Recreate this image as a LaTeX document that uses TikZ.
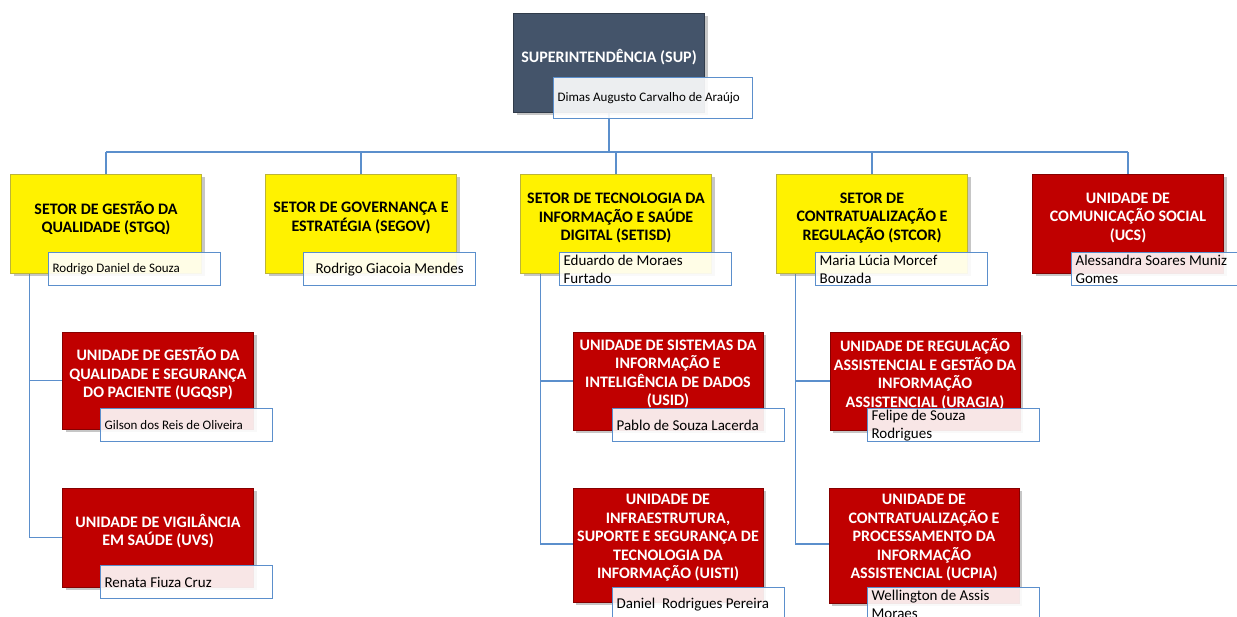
\documentclass[tikz,border=0pt]{standalone}
\usepackage{fontspec}
\setmainfont{Carlito}
\usepackage{tikz}
\usetikzlibrary{shadows, backgrounds}

\definecolor{supcolor}{RGB}{68,84,106}
\definecolor{unitred}{RGB}{192,0,0}
\definecolor{linkblue}{RGB}{91,143,204}

\begin{document}
\begin{tikzpicture}[x=1pt, y=-1pt,
  box/.style={rectangle, minimum width=191pt, minimum height=99pt, inner sep=0pt,
    drop shadow={shadow xshift=3pt, shadow yshift=-3pt, opacity=0.45}},
  setor/.style={box, fill=yellow, draw=yellow!70!black, line width=0.6pt},
  unidade/.style={box, fill=unitred, draw=unitred!70!black, line width=0.6pt},
  titulo/.style={font=\bfseries\fontsize{16}{18.5}\selectfont, align=center},
  nome/.style={anchor=north west, draw=linkblue, line width=1.2pt, fill=white,
    fill opacity=0.9, text opacity=1, text width=164pt, minimum height=33pt,
    inner xsep=4pt, inner ysep=0pt, align=flush left, font=\fontsize{15}{18}\selectfont},
  link/.style={draw=linkblue, line width=1.3pt}]
  \useasboundingbox (0,0) rectangle (1237,616);
  \coordinate (bus) at (0,152);

  % Superintendencia
  \node[box, fill=supcolor, draw=supcolor!70!black] (sup) at (609,62.5) {};
  \node[titulo, text=white] (sup-t) at ([yshift=5.5pt]sup.center) {SUPERINTENDÊNCIA (SUP)};
  \node[nome, text width=191pt, minimum height=41pt, font=\fontsize{13}{16}\selectfont] (sup-nome) at (553,77) {Dimas Augusto Carvalho de Araújo};

  % setores
  \node[setor] (stgq) at (106,223.5) {};
  \node[titulo] (stgq-t) at ([yshift=5.5pt]stgq.center) {SETOR DE GESTÃO DA\\QUALIDADE (STGQ)};
  \node[nome, font=\fontsize{13}{16}\selectfont] (stgq-nome) at (48,252) {Rodrigo Daniel de Souza};

  \node[setor] (segov) at (361,223.5) {};
  \node[titulo] (segov-t) at ([yshift=5.5pt]segov.center) {SETOR DE GOVERNANÇA E\\ESTRATÉGIA (SEGOV)};
  \node[nome] (segov-nome) at (303,252) {\hspace*{8pt}Rodrigo Giacoia Mendes};

  \node[setor] (setisd) at (616,223.5) {};
  \node[titulo] (setisd-t) at ([yshift=5.5pt]setisd.center) {SETOR DE TECNOLOGIA DA\\INFORMAÇÃO E SAÚDE\\DIGITAL (SETISD)};
  \node[nome] (setisd-nome) at (559,252) {Eduardo de Moraes\\Furtado};

  \node[setor] (stcor) at (872,223.5) {};
  \node[titulo] (stcor-t) at ([yshift=5.5pt]stcor.center) {SETOR DE\\CONTRATUALIZAÇÃO E\\REGULAÇÃO (STCOR)};
  \node[nome] (stcor-nome) at (815,252) {Maria Lúcia Morcef\\Bouzada};

  \node[unidade] (ucs) at (1128,223.5) {};
  \node[titulo, text=white] (ucs-t) at ([yshift=5.5pt]ucs.center) {UNIDADE DE\\COMUNICAÇÃO SOCIAL\\(UCS)};
  \node[nome] (ucs-nome) at (1071,252) {Alessandra Soares Muniz\\Gomes};

  % unidades do STGQ
  \node[unidade, minimum height=97pt] (ugqsp) at (158,380.5) {};
  \node[titulo, text=white] (ugqsp-t) at ([yshift=6.5pt]ugqsp.center) {UNIDADE DE GESTÃO DA\\QUALIDADE E SEGURANÇA\\DO PACIENTE (UGQSP)};
  \node[nome, font=\fontsize{13}{16}\selectfont] (ugqsp-nome) at (100,408) {Gilson dos Reis de Oliveira};

  \node[unidade] (uvs) at (158,537.5) {};
  \node[titulo, text=white] (uvs-t) at ([yshift=6.5pt]uvs.center) {UNIDADE DE VIGILÂNCIA\\EM SAÚDE (UVS)};
  \node[nome] (uvs-nome) at (100,565) {Renata Fiuza Cruz};

  % unidades do SETISD
  \node[unidade, minimum width=190pt, minimum height=98pt] (usid) at (668,381) {};
  \node[titulo, text=white] (usid-t) at ([yshift=7pt]usid.center) {UNIDADE DE SISTEMAS DA\\INFORMAÇÃO E\\INTELIGÊNCIA DE DADOS\\(USID)};
  \node[nome] (usid-nome) at (612,408) {Pablo de Souza Lacerda};

  \node[unidade, minimum width=190pt, minimum height=114pt] (uisti) at (668,545) {};
  \node[titulo, text=white] (uisti-t) at ([yshift=7pt]uisti.center) {UNIDADE DE\\INFRAESTRUTURA,\\SUPORTE E SEGURANÇA DE\\TECNOLOGIA DA\\INFORMAÇÃO (UISTI)};
  \node[nome] (uisti-nome) at (612,587) {Daniel~ Rodrigues Pereira};

  % unidades do STCOR
  \node[unidade, minimum width=190pt, minimum height=98pt] (uragia) at (925,381) {};
  \node[titulo, text=white] (uragia-t) at ([yshift=7pt]uragia.center) {UNIDADE DE REGULAÇÃO\\ASSISTENCIAL E GESTÃO DA\\INFORMAÇÃO\\ASSISTENCIAL (URAGIA)};
  \node[nome] (uragia-nome) at (867,408) {Felipe de Souza\\Rodrigues};

  \node[unidade, minimum width=190pt, minimum height=115pt] (ucpia) at (924,545.5) {};
  \node[titulo, text=white] (ucpia-t) at ([yshift=7.5pt]ucpia.center) {UNIDADE DE\\CONTRATUALIZAÇÃO E\\PROCESSAMENTO DA\\INFORMAÇÃO\\ASSISTENCIAL (UCPIA)};
  \node[nome] (ucpia-nome) at (867,587) {Wellington de Assis\\Moraes};

  % ligacoes
  \begin{scope}[on background layer]
    \draw[link] (sup.south) -- (sup.south |- bus);
    \draw[link] (stgq.north |- bus) -- (ucs.north |- bus);
    \foreach \s in {stgq,segov,setisd,stcor,ucs}
      \draw[link] (\s.north |- bus) -- (\s.north);
    \draw[link] ([xshift=19pt]stgq.south west) |- (ugqsp.west);
    \draw[link] ([xshift=19pt]stgq.south west) |- (uvs.west);
    \draw[link] ([xshift=20pt]setisd.south west) |- (usid.west);
    \draw[link] ([xshift=20pt]setisd.south west) |- ([yshift=1pt]uisti.west);
    \draw[link] ([xshift=19pt]stcor.south west) |- (uragia.west);
    \draw[link] ([xshift=19pt]stcor.south west) |- ([yshift=1.5pt]ucpia.west);
  \end{scope}
\end{tikzpicture}
\end{document}
